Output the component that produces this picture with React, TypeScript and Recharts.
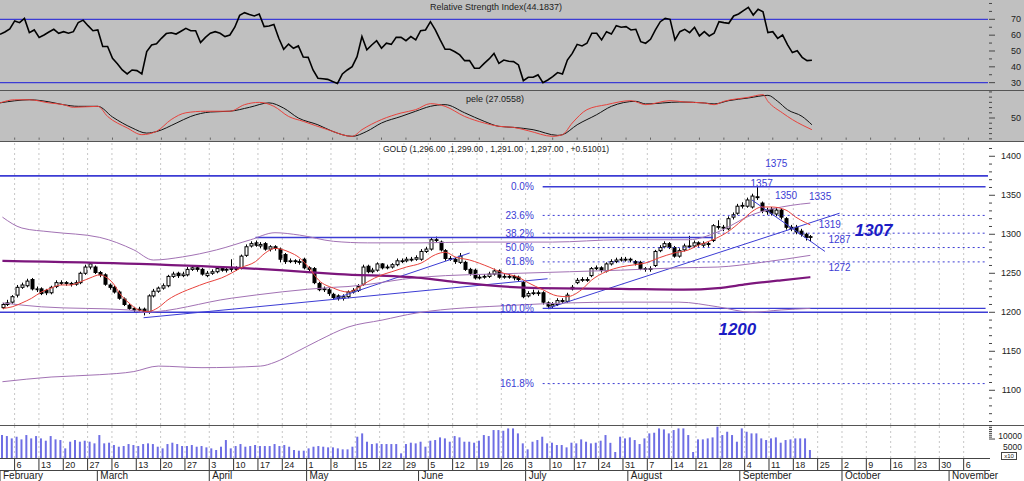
import React from 'react';
import { ComposedChart, Line, Bar, XAxis, YAxis, ReferenceLine, ReferenceDot } from 'recharts';

// layout of the page
const W = 1024;
const AXIS_W = 36;
const DAY_COUNT = 203; // Feb 1 .. Nov 10, trading days only
const BAND = (W - AXIS_W) / DAY_COUNT;

const GRAY = '#c0c0c0';
const BLUE = '#3c3cd4';
const PURPLE = '#a272b4';
const DARK_PURPLE = '#7c167c';
const RED = '#e8423c';
const GRID = '#c6c6c6';

const MONTH_NAMES = ['January', 'February', 'March', 'April', 'May', 'June', 'July', 'August', 'September', 'October', 'November', 'December'];

const tradingDays: Date[] = (() => {
  const out: Date[] = [];
  const d = new Date(2017, 1, 1);
  while (out.length < DAY_COUNT) {
    const wd = d.getDay();
    if (wd !== 0 && wd !== 6) out.push(new Date(d));
    d.setDate(d.getDate() + 1);
  }
  return out;
})();

// daily candles, Feb 1 .. Sep 21
const opens = [
  1206, 1210, 1213, 1222, 1232, 1234, 1242, 1229, 1230, 1228,
  1225, 1233, 1237, 1238, 1237, 1236, 1238, 1250, 1258, 1258,
  1251, 1248, 1235, 1232, 1226, 1217, 1209, 1205, 1203, 1204,
  1200, 1221, 1227, 1231, 1234, 1246, 1250, 1247, 1248, 1255,
  1257, 1255, 1247, 1250, 1252, 1256, 1254, 1255, 1256, 1257,
  1273, 1285, 1289, 1285, 1288, 1281, 1284, 1281, 1274, 1265,
  1266, 1265, 1268, 1257, 1256, 1237, 1229, 1229, 1223, 1221,
  1218, 1220, 1226, 1228, 1236, 1259, 1252, 1254, 1262, 1257,
  1258, 1261, 1265, 1266, 1268, 1268, 1268, 1278, 1281, 1293,
  1290, 1279, 1269, 1268, 1264, 1264, 1255, 1254, 1244, 1245,
  1246, 1249, 1253, 1245, 1246, 1246, 1245, 1238, 1221, 1224,
  1225, 1225, 1212, 1208, 1210, 1215, 1214, 1230, 1238, 1241,
  1242, 1247, 1256, 1257, 1253, 1262, 1265, 1268, 1268, 1268,
  1265, 1264, 1256, 1255, 1260, 1279, 1284, 1288, 1283, 1272,
  1280, 1285, 1285, 1289, 1286, 1288, 1292, 1310, 1309, 1307,
  1322, 1327, 1336, 1336, 1335, 1348, 1340, 1331, 1332, 1326,
  1331, 1320, 1309, 1309, 1304, 1300, 1296,
];
const highs = [
  1212, 1216, 1222, 1235, 1238, 1243, 1244, 1233, 1232, 1230,
  1234, 1241, 1241, 1240, 1239, 1241, 1252, 1261, 1264, 1260,
  1253, 1250, 1237, 1234, 1228, 1219, 1211, 1207, 1207, 1206,
  1223, 1230, 1233, 1237, 1248, 1252, 1252, 1252, 1258, 1260,
  1259, 1257, 1253, 1255, 1259, 1258, 1258, 1268, 1259, 1274,
  1287, 1291, 1292, 1290, 1290, 1286, 1286, 1283, 1276, 1269,
  1268, 1268, 1270, 1259, 1258, 1239, 1233, 1231, 1225, 1223,
  1223, 1228, 1231, 1236, 1261, 1261, 1257, 1264, 1263, 1261,
  1263, 1269, 1269, 1271, 1271, 1273, 1281, 1284, 1296, 1297,
  1292, 1281, 1272, 1270, 1276, 1266, 1257, 1256, 1248, 1249,
  1252, 1256, 1255, 1249, 1249, 1248, 1247, 1240, 1227, 1229,
  1228, 1227, 1214, 1213, 1218, 1218, 1225, 1235, 1244, 1245,
  1245, 1258, 1260, 1259, 1264, 1268, 1270, 1271, 1271, 1270,
  1267, 1266, 1258, 1259, 1280, 1286, 1291, 1290, 1285, 1282,
  1288, 1298, 1292, 1291, 1291, 1290, 1313, 1318, 1312, 1323,
  1328, 1339, 1341, 1347, 1352, 1362, 1342, 1334, 1335, 1334,
  1333, 1322, 1312, 1312, 1307, 1302, 1299,
];
const lows = [
  1204, 1208, 1211, 1219, 1230, 1232, 1228, 1226, 1222, 1222,
  1223, 1231, 1235, 1234, 1233, 1234, 1236, 1248, 1255, 1249,
  1245, 1234, 1229, 1224, 1216, 1208, 1203, 1200, 1201, 1196,
  1198, 1219, 1225, 1229, 1232, 1244, 1244, 1245, 1246, 1253,
  1252, 1247, 1245, 1248, 1250, 1252, 1251, 1252, 1253, 1255,
  1271, 1283, 1284, 1282, 1279, 1278, 1279, 1264, 1262, 1263,
  1262, 1261, 1255, 1252, 1236, 1227, 1226, 1221, 1216, 1215,
  1215, 1218, 1224, 1226, 1234, 1250, 1250, 1252, 1255, 1255,
  1256, 1259, 1263, 1264, 1265, 1266, 1266, 1276, 1279, 1290,
  1278, 1266, 1266, 1262, 1262, 1253, 1247, 1242, 1242, 1243,
  1244, 1247, 1243, 1243, 1243, 1241, 1239, 1218, 1219, 1222,
  1221, 1210, 1204, 1205, 1208, 1212, 1212, 1228, 1236, 1239,
  1239, 1245, 1254, 1251, 1251, 1260, 1263, 1265, 1265, 1264,
  1260, 1254, 1252, 1252, 1258, 1277, 1282, 1281, 1270, 1270,
  1278, 1282, 1283, 1284, 1283, 1284, 1290, 1306, 1304, 1305,
  1319, 1325, 1333, 1334, 1333, 1344, 1327, 1325, 1324, 1323,
  1319, 1306, 1304, 1300, 1297, 1292, 1291,
];
const closes = [
  1210, 1212, 1220, 1232, 1235, 1240, 1230, 1230, 1224, 1225,
  1232, 1238, 1238, 1237, 1236, 1238, 1250, 1258, 1262, 1251,
  1248, 1236, 1232, 1226, 1218, 1210, 1205, 1203, 1204, 1200,
  1221, 1227, 1231, 1234, 1246, 1249, 1247, 1249, 1255, 1257,
  1255, 1249, 1250, 1252, 1256, 1254, 1255, 1256, 1256, 1272,
  1284, 1288, 1286, 1287, 1281, 1284, 1282, 1268, 1265, 1266,
  1265, 1264, 1257, 1255, 1238, 1229, 1230, 1224, 1219, 1218,
  1220, 1226, 1228, 1233, 1258, 1252, 1254, 1262, 1257, 1258,
  1261, 1266, 1266, 1268, 1268, 1270, 1278, 1281, 1293, 1293,
  1280, 1269, 1269, 1265, 1272, 1255, 1250, 1244, 1245, 1246,
  1249, 1253, 1245, 1246, 1246, 1244, 1242, 1220, 1224, 1225,
  1225, 1213, 1208, 1210, 1215, 1215, 1222, 1232, 1241, 1242,
  1242, 1256, 1257, 1254, 1262, 1265, 1267, 1268, 1268, 1267,
  1263, 1256, 1255, 1256, 1278, 1283, 1288, 1283, 1272, 1279,
  1285, 1285, 1289, 1287, 1288, 1287, 1311, 1310, 1308, 1320,
  1325, 1336, 1337, 1344, 1349, 1348, 1330, 1329, 1327, 1331,
  1322, 1309, 1307, 1303, 1300, 1296, 1297,
];

const rsi = [
  60.5, 62, 64, 69, 67.9, 70.6, 61.6, 63.3, 58.6, 60.1,
  62, 63.7, 61.2, 62.2, 61.2, 62.2, 68, 69.5, 66, 62.8,
  63.3, 52.8, 52.8, 45.4, 42, 38, 35.5, 38, 37.6, 35.5,
  49.6, 53.8, 54.5, 58, 61, 61.5, 60.7, 62.5, 64.3, 62.8,
  62.8, 55.3, 58.6, 61.2, 62.2, 61.2, 59.1, 60.1, 65, 72.5,
  74.2, 73, 72.1, 73.4, 65.4, 65.8, 66.8, 58, 51.1, 54.4,
  51.7, 53.2, 46.2, 46, 38, 32.8, 32.5, 32.1, 30.7, 29.5,
  35.5, 38, 40.1, 46.4, 59.1, 50.7, 53.8, 56.5, 51.7, 54.9,
  54.2, 58.6, 58.6, 56.5, 59.1, 57, 62.8, 63.3, 68.5, 63.3,
  57, 51.1, 51.1, 49.5, 47.5, 43.9, 43.9, 39.1, 39.1, 42.2,
  45, 48.5, 42.2, 44.3, 43.5, 43.3, 41.2, 31.3, 33.4, 33.4,
  34.9, 30, 31.7, 33.8, 36.4, 35.5, 44.3, 48.5, 54.2, 53.2,
  54.9, 61.2, 61.2, 57, 62.2, 60.7, 66, 65, 65.4, 63.3,
  63.7, 55.9, 54.9, 57.4, 63.3, 68.5, 70.6, 70, 57, 62.2,
  63.7, 61.6, 65, 59.5, 62.2, 59.5, 61.2, 68.5, 67.9, 67.5,
  72.1, 73.4, 75.5, 77.6, 72.7, 76.3, 74.8, 61.6, 62.2, 58,
  60.1, 54, 49, 50.2, 46, 43.9, 44.2,
];

const volume = [
  12100, 11570, 10340, 11220, 9820, 12100, 10340, 11570, 10340, 9120,
  11570, 9820, 9470, 5080, 8590, 9470, 8590, 9120, 8590, 7720,
  12100, 7720, 8070, 6840, 5960, 6310, 7360, 6840, 6310, 7360,
  7720, 7360, 5960, 5080, 7360, 8070, 7360, 6310, 6310, 6840,
  5960, 6310, 5610, 5080, 4210, 5960, 9470, 5080, 6310, 7360,
  5960, 6310, 6840, 6310, 6310, 6310, 7360, 6310, 6840, 5960,
  4210, 3860, 3860, 5080, 5960, 6310, 5960, 5610, 5610, 5080,
  4560, 4560, 5960, 11220, 12980, 8590, 7360, 7720, 7360, 7360,
  7360, 7360, 2450, 7360, 8070, 7720, 8590, 5960, 9120, 9470,
  10870, 10340, 8590, 11570, 10870, 8590, 8590, 8070, 9120, 12100,
  11570, 14730, 14730, 14380, 15600, 15600, 12980, 7720, 4560, 8590,
  9470, 11220, 7720, 8070, 6840, 6840, 5610, 8070, 7720, 9820,
  8590, 7720, 8070, 9120, 12100, 8000, 3160, 11220, 10340, 10870,
  9470, 7360, 10340, 12980, 13330, 15600, 15080, 12980, 14730, 15600,
  15600, 12100, 3160, 9820, 9820, 10340, 10870, 16480, 12100, 13850,
  12100, 8590, 15600, 13850, 12980, 12980, 10340, 9470, 10340, 10870,
  8070, 9470, 9820, 10340, 10340, 10340, 4210,
];

// [day index, value]
const pele: [number, number][] = [
  [0, 79], [3, 83], [6, 85], [10, 81], [13, 75.5], [16, 72.4], [20, 72.4], [23, 52], [27, 31], [30, 21],
  [32, 24], [36, 40], [39, 53], [43, 61.5], [47, 63], [51, 70.5], [55, 79], [58, 69], [61, 50], [65, 37],
  [68, 24.4], [72, 14.8], [75, 24.4], [78, 40.4], [82, 53], [85, 63], [88, 72.4], [91, 75.6], [95, 60], [99, 43.6],
  [102, 34], [105, 32], [109, 27.6], [114, 16.7], [115, 18], [118, 37], [122, 56.4], [125, 72.4], [130, 82], [132, 77],
  [139, 80.7], [144, 78.8], [146, 77], [149, 83.3], [153, 88.4], [157, 93.5], [159, 82], [161, 66], [164, 53], [166, 37],
];
const peleSignal: [number, number][] = [
  [0, 79], [3, 85], [6, 85], [10, 79], [13, 75.5], [15, 70.5], [20, 72.4], [22, 53], [26, 31], [29, 18],
  [32, 24.4], [35, 47], [38, 60], [42, 63], [47, 63], [50, 75.6], [53, 80], [56, 72.4], [59, 53], [62, 43.6],
  [67, 27.6], [72, 14.8], [74, 27.6], [78, 47], [82, 59.6], [85, 66], [88, 77.5], [91, 72.4], [95, 53], [99, 40.4],
  [102, 34], [105, 32], [108, 25.6], [113, 14.8], [115, 18], [117, 40.4], [120, 66], [124, 75.6], [129, 83.3], [132, 75.6],
  [137, 83.3], [140, 80.7], [144, 78.8], [146, 75.6], [148, 82], [153, 89.7], [156, 94.8], [157, 82], [160, 59.6], [162, 47],
  [166, 27.6],
];
const maShort: [number, number][] = [
  [0, 1205], [2, 1207], [4, 1212], [6, 1218], [8, 1226], [10, 1231], [12, 1235], [14, 1235], [16, 1239], [18, 1244],
  [20, 1248], [21, 1246], [23, 1235], [24, 1225], [26, 1212], [28, 1203], [30, 1201], [32, 1206], [34, 1216], [37, 1226],
  [39, 1231], [42, 1238], [45, 1244], [47, 1250], [49, 1257], [52, 1265], [54, 1276], [56, 1282], [59, 1277], [61, 1270],
  [63, 1257], [65, 1241], [68, 1231], [71, 1226], [73, 1231], [75, 1239], [78, 1248], [80, 1252], [83, 1258], [86, 1263],
  [89, 1274], [91, 1277], [93, 1271], [96, 1267], [100, 1258], [103, 1250], [106, 1245], [108, 1238], [111, 1229], [114, 1221],
  [116, 1220], [119, 1229], [121, 1241], [124, 1252], [127, 1258], [130, 1261], [132, 1263], [135, 1270], [138, 1276], [141, 1280],
  [143, 1286], [146, 1293], [149, 1303], [152, 1318], [154, 1329], [156, 1335], [158, 1335], [161, 1331], [163, 1322], [165, 1315],
  [166, 1312],
];
const maLong: [number, number][] = [
  [0, 1266], [28, 1262], [57, 1254], [69, 1249], [86, 1244], [94, 1238], [110, 1231], [127, 1230], [140, 1229], [147, 1231],
  [153, 1236], [160, 1241], [166, 1245],
];
const bandUpper: [number, number][] = [
  [0, 1322], [4, 1308], [10, 1303], [20, 1296], [27, 1280], [31, 1267], [37, 1271], [44, 1280], [51, 1293], [56, 1302],
  [61, 1299], [68, 1291], [75, 1289], [86, 1289], [96, 1290], [113, 1290], [127, 1293], [141, 1293], [147, 1303], [154, 1325],
  [162, 1337], [166, 1340],
];
const bandMiddle: [number, number][] = [
  [0, 1212], [8, 1207], [26, 1203], [29, 1200], [47, 1218], [68, 1232], [71, 1233], [86, 1245], [106, 1250], [127, 1254],
  [139, 1257], [147, 1258], [156, 1264], [166, 1273],
];
const bandLower: [number, number][] = [
  [0, 1111], [10, 1117], [20, 1120], [27, 1124], [32, 1131], [41, 1129], [53, 1131], [56, 1136], [60, 1148], [65, 1164],
  [71, 1181], [78, 1190], [85, 1199], [105, 1209], [127, 1213], [139, 1213], [147, 1207], [154, 1200], [160, 1203], [166, 1205],
];

// drawn levels and annotations
const fibHigh = 1361;
const fibLow = 1205;
const fibRatios = [0, 23.6, 38.2, 50, 61.8, 100, 161.8];
const trendLines = [
  { from: [29, 1193], to: [112, 1243] },
  { from: [68, 1217], to: [96, 1276] },
  { from: [112, 1205], to: [172, 1327] },
  { from: [154, 1344], to: [169, 1278] },
];
const notes = [
  { i: 159, p: 1391, text: '1375' },
  { i: 156, p: 1365, text: '1357' },
  { i: 161, p: 1350, text: '1350' },
  { i: 168, p: 1348, text: '1335' },
  { i: 170, p: 1312, text: '1319' },
  { i: 172, p: 1293, text: '1287' },
  { i: 172, p: 1257, text: '1272' },
];
const bigNotes = [
  { i: 179, p: 1305, text: '1307' },
  { i: 151, p: 1179, text: '1200' },
];

const rows: any[] = tradingDays.map((d, i) => ({
  i,
  open: opens[i],
  high: highs[i],
  low: lows[i],
  close: closes[i],
  rsi: rsi[i],
  vol: volume[i],
}));
const put = (key: string, pts: [number, number][]) => pts.forEach(([i, v]) => { rows[i][key] = v; });
put('pele', pele);
put('peleSignal', peleSignal);
put('maShort', maShort);
put('maLong', maLong);
put('bandUpper', bandUpper);
put('bandMiddle', bandMiddle);
put('bandLower', bandLower);

const mondays = tradingDays.map((d, i) => (d.getDay() === 1 ? i : -1)).filter((i) => i >= 0);
const monthStarts = new Set(tradingDays.map((d, i) => (i === 0 || d.getMonth() !== tradingDays[i - 1].getMonth() ? i : -1)).filter((i) => i >= 0));
const dateTicks = tradingDays.map((_, i) => i).filter((i) => tradingDays[i].getDay() === 1 || monthStarts.has(i));

const Candle = (props: any) => {
  const { x, y, width, height, payload } = props;
  if (payload == null || payload.high == null) return <g />;
  const { open, close, high, low } = payload;
  const range = high - low || 1;
  const py = (v: number) => y + ((high - v) / range) * height;
  const cx = Math.round(x + width / 2) + 0.5;
  const top = py(Math.max(open, close));
  const bot = py(Math.min(open, close));
  return (
    <g>
      <line x1={cx} x2={cx} y1={y} y2={y + height} stroke="#000" />
      <rect x={cx - 1.5} y={top} width={3} height={Math.max(bot - top, 0.8)} fill={close > open ? '#fff' : '#000'} stroke="#000" strokeWidth={1} />
    </g>
  );
};

const axisTick = (labelled: number[]) => (p: any) => {
  const v = p.payload.value;
  const big = labelled.includes(v);
  return (
    <g>
      <line x1={p.x + 1} x2={p.x + (big ? 7 : 4)} y1={p.y} y2={p.y} stroke="#444" />
      {big && <text x={p.x + 33} y={p.y + 3} textAnchor="end" fontSize={9} fill="#222">{v}</text>}
    </g>
  );
};

const volumeTick = (p: any) => {
  const v = p.payload.value;
  if (v === 5000) return <text x={p.x + 34} y={p.y + 1.5} textAnchor="end" fontSize={8.5} fill="#222">5000</text>;
  const big = v === 10000;
  return (
    <g>
      <line x1={p.x + 1} x2={p.x + (big ? 7 : 4)} y1={p.y} y2={p.y} stroke="#444" />
      {big && <text x={p.x + 34} y={p.y} textAnchor="end" fontSize={8.5} fill="#222">10000</text>}
    </g>
  );
};

const dateTick = (p: any) => {
  const i = p.payload.value;
  const d = tradingDays[i];
  const left = p.x - BAND / 2;
  const top = p.y;
  return (
    <g>
      {d.getDay() === 1 && (
        <g>
          <line x1={left} x2={left} y1={top} y2={top + 12} stroke="#333" />
          <text x={left + 2} y={top + 10} fontSize={9} fill="#222">{d.getDate()}</text>
        </g>
      )}
      {monthStarts.has(i) && (
        <g>
          <line x1={left} x2={left} y1={top + 12} y2={top + 23} stroke="#333" />
          <text x={left + 3} y={top + 21} fontSize={10} fill="#222">{MONTH_NAMES[d.getMonth()]}</text>
        </g>
      )}
    </g>
  );
};

const noteLabel = (text: string, big: boolean, anchor: string) => (props: any) => {
  const vb = props.viewBox;
  const cx = vb.x + vb.width / 2;
  const cy = vb.y + vb.height / 2;
  const dx = anchor === 'end' ? -4 : 0;
  return (
    <text x={cx + dx} y={cy} dy="0.35em" textAnchor={anchor} fill={big ? '#1c1cc4' : BLUE}
      fontSize={big ? 17 : 10} fontWeight={big ? 'bold' : 'normal'} fontStyle={big ? 'italic' : 'normal'}>
      {text}
    </text>
  );
};

const range = (a: number, b: number, step: number) => {
  const out: number[] = [];
  for (let v = a; v <= b; v += step) out.push(v);
  return out;
};

const gridLines = (key: string) =>
  mondays.map((m) => <ReferenceLine key={key + m} x={m} position="start" stroke={GRID} strokeDasharray="2 3" />);

const hLine = (top: number, left = 0, width = W, color = '#555') => (
  <div style={{ position: 'absolute', top, left, width, height: 1, background: color }} />
);

const label = (text: string, left: number, top: number, size = 9) => (
  <div style={{ position: 'absolute', left, top, fontSize: size, color: '#222', whiteSpace: 'nowrap', lineHeight: '11px' }}>{text}</div>
);

export default function App() {
  return (
    <div style={{ position: 'absolute', left: 0, top: 0, width: W, height: 481, background: '#fff', overflow: 'hidden', fontFamily: '"Liberation Sans", Arial, sans-serif' }}>
      {/* RSI */}
      <div style={{ position: 'absolute', left: 0, top: 0, width: W, height: 90, background: GRAY }}>
        <ComposedChart width={W} height={90} data={rows} margin={{ top: 0, right: 0, bottom: 1, left: 0 }}>
          <XAxis dataKey="i" hide />
          <YAxis orientation="right" width={AXIS_W} type="number" domain={[26, 82.2]} allowDataOverflow
            ticks={range(30, 80, 5)} interval={0} tick={axisTick([30, 40, 50, 60, 70])} tickLine={false} axisLine={false} tickSize={0} tickMargin={0} />
          <ReferenceLine y={70} stroke={BLUE} strokeWidth={1.2} />
          <ReferenceLine y={30} stroke={BLUE} strokeWidth={1.2} />
          <Line dataKey="rsi" stroke="#000" strokeWidth={1.6} dot={false} activeDot={false} legendType="none" isAnimationActive={false} />
        </ComposedChart>
      </div>
      {label('Relative Strength Index(44.1837)', 430, 2)}
      {hLine(90)}

      {/* pele oscillator */}
      <div style={{ position: 'absolute', left: 0, top: 91, width: W, height: 50, background: GRAY }}>
        <ComposedChart width={W} height={50} data={rows} margin={{ top: 0, right: 0, bottom: 1, left: 0 }}>
          <XAxis dataKey="i" hide />
          <YAxis orientation="right" width={AXIS_W} type="number" domain={[7.8, 101.8]} allowDataOverflow
            ticks={range(10, 100, 10)} interval={0} tick={axisTick([50])} tickLine={false} axisLine={false} tickSize={0} tickMargin={0} />
          {mondays.map((m) => (
            <ReferenceLine key={'pt' + m} segment={[{ x: m, y: 8.2 }, { x: m, y: 12.5 }]} ifOverflow="visible" stroke="#666" />
          ))}
          <Line dataKey="pele" type="monotone" stroke="#111" strokeWidth={1} dot={false} activeDot={false} connectNulls isAnimationActive={false} />
          <Line dataKey="peleSignal" type="monotone" stroke={RED} strokeWidth={1} dot={false} activeDot={false} connectNulls isAnimationActive={false} />
        </ComposedChart>
      </div>
      {label('pele (27.0558)', 466, 94)}
      {hLine(141)}

      {/* price */}
      <div style={{ position: 'absolute', left: 0, top: 142, width: W, height: 283 }}>
        <ComposedChart width={W} height={283} data={rows} margin={{ top: 0, right: 0, bottom: 0, left: 0 }}>
          <XAxis dataKey="i" hide />
          <YAxis orientation="right" width={AXIS_W} type="number" domain={[1055.5, 1418.3]} allowDataOverflow
            ticks={range(1060, 1410, 10)} interval={0} tick={axisTick(range(1100, 1400, 50))} tickLine={false} axisLine={false} tickSize={0} tickMargin={0} />
          {gridLines('g')}
          <ReferenceLine y={1375} stroke={BLUE} strokeWidth={1.8} />
          <ReferenceLine y={1200} stroke={BLUE} strokeWidth={1.5} />
          <ReferenceLine segment={[{ x: 52, y: 1296 }, { x: 146, y: 1296 }]} stroke={BLUE} strokeWidth={1.5} />
          {fibRatios.map((r) => {
            const level = fibHigh - (r / 100) * (fibHigh - fibLow);
            const solid = r === 0 || r === 100;
            return (
              <ReferenceLine key={'f' + r} segment={[{ x: 111, y: level }, { x: 202, y: level }]} stroke={BLUE}
                strokeWidth={solid ? 1.4 : 1} strokeDasharray={solid ? undefined : '2 3'} />
            );
          })}
          {trendLines.map((t, k) => (
            <ReferenceLine key={'t' + k} segment={[{ x: t.from[0], y: t.from[1] }, { x: t.to[0], y: t.to[1] }]} stroke={BLUE} strokeWidth={1} />
          ))}
          <Line dataKey="bandUpper" type="monotone" stroke={PURPLE} strokeWidth={1} dot={false} activeDot={false} connectNulls isAnimationActive={false} />
          <Line dataKey="bandMiddle" type="monotone" stroke={PURPLE} strokeWidth={1} dot={false} activeDot={false} connectNulls isAnimationActive={false} />
          <Line dataKey="bandLower" type="monotone" stroke={PURPLE} strokeWidth={1} dot={false} activeDot={false} connectNulls isAnimationActive={false} />
          <Line dataKey="maLong" type="monotone" stroke={DARK_PURPLE} strokeWidth={2.2} dot={false} activeDot={false} connectNulls isAnimationActive={false} />
          <Line dataKey="maShort" type="monotone" stroke={RED} strokeWidth={1} dot={false} activeDot={false} connectNulls isAnimationActive={false} />
          <Bar dataKey={(d: any) => (d.high == null ? null : [d.low, d.high])} barSize={3} shape={(p: any) => <Candle {...p} />} isAnimationActive={false} />
          {fibRatios.map((r) => (
            <ReferenceDot key={'fl' + r} x={110} y={fibHigh - (r / 100) * (fibHigh - fibLow)} r={1} fill="none" stroke="none"
              label={noteLabel(r.toFixed(1) + '%', false, 'end')} />
          ))}
          {notes.map((n) => (
            <ReferenceDot key={'n' + n.text} x={n.i} y={n.p} r={1} fill="none" stroke="none" label={noteLabel(n.text, false, 'middle')} />
          ))}
          {bigNotes.map((n) => (
            <ReferenceDot key={'b' + n.text} x={n.i} y={n.p} r={1} fill="none" stroke="none" label={noteLabel(n.text, true, 'middle')} />
          ))}
        </ComposedChart>
      </div>
      {label('GOLD (1,296.00 ,1,299.00 , 1,291.00 , 1,297.00 , +0.51001)', 383, 144, 8.5)}
      {hLine(425)}

      {/* volume + dates */}
      <div style={{ position: 'absolute', left: 0, top: 425, width: W, height: 56 }}>
        <ComposedChart width={W} height={56} data={rows} margin={{ top: 0, right: 0, bottom: 0, left: 0 }}>
          <XAxis dataKey="i" ticks={dateTicks} interval={0} tick={dateTick} tickLine={false} axisLine={false} height={23} tickSize={0} tickMargin={0} />
          <YAxis orientation="right" width={AXIS_W} type="number" domain={[0, 17400]} allowDataOverflow
            ticks={[5000, 10000, 11000, 12000, 13000, 14000, 15000, 16000, 17000]} interval={0} tick={volumeTick}
            tickLine={false} axisLine={false} tickSize={0} tickMargin={0} />
          {gridLines('v')}
          <Bar dataKey="vol" fill="#6e6ee4" barSize={2} isAnimationActive={false} />
        </ComposedChart>
      </div>
      {hLine(458, 0, W - AXIS_W + 2, '#444')}
      {hLine(470, 0, W - AXIS_W + 2, '#444')}
      <div style={{ position: 'absolute', left: 1001, top: 452, width: 14, height: 6, border: '1px solid #444', fontSize: 6, lineHeight: '6px', textAlign: 'center', color: '#222', background: '#fff' }}>x10</div>
    </div>
  );
}
